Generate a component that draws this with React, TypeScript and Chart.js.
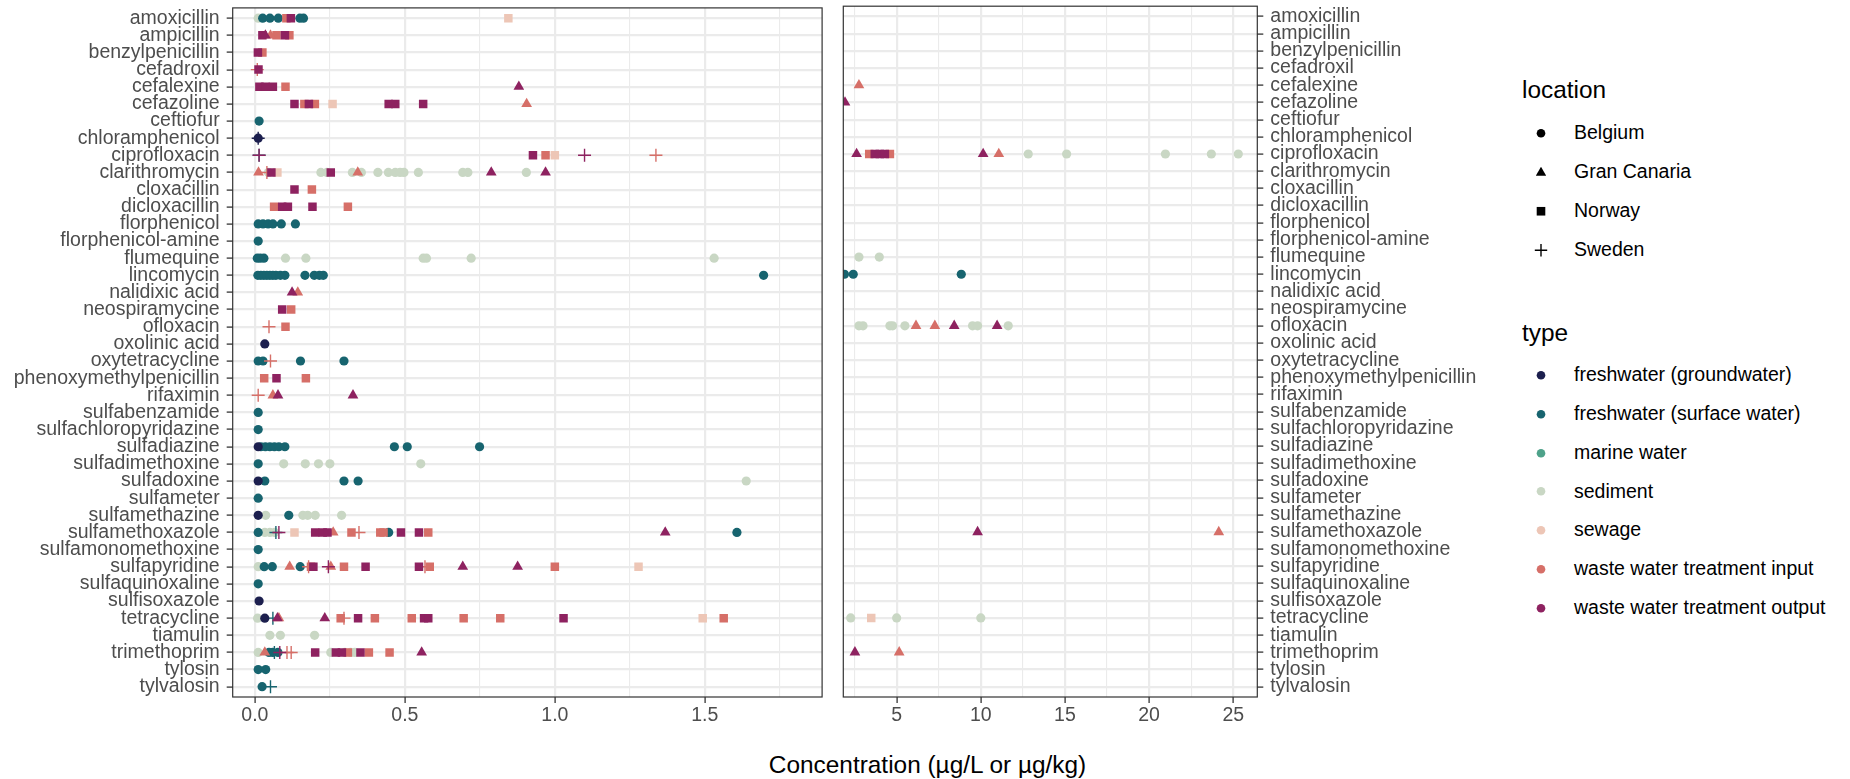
import React, { useEffect, useRef } from "react";
import { Chart, registerables } from "chart.js";
Chart.register(...registerables);

const FONT = "'Liberation Sans', Arial, sans-serif";

const drugs = [
  "amoxicillin", "ampicillin", "benzylpenicillin", "cefadroxil", "cefalexine", "cefazoline",
  "ceftiofur", "chloramphenicol", "ciprofloxacin", "clarithromycin", "cloxacillin", "dicloxacillin",
  "florphenicol", "florphenicol-amine", "flumequine", "lincomycin", "nalidixic acid", "neospiramycine",
  "ofloxacin", "oxolinic acid", "oxytetracycline", "phenoxymethylpenicillin", "rifaximin",
  "sulfabenzamide", "sulfachloropyridazine", "sulfadiazine", "sulfadimethoxine", "sulfadoxine",
  "sulfameter", "sulfamethazine", "sulfamethoxazole", "sulfamonomethoxine", "sulfapyridine",
  "sulfaquinoxaline", "sulfisoxazole", "tetracycline", "tiamulin", "trimethoprim", "tylosin", "tylvalosin",
];

const locations = ["Belgium", "Gran Canaria", "Norway", "Sweden"];
const types = [
  "freshwater (groundwater)", "freshwater (surface water)", "marine water", "sediment",
  "sewage", "waste water treatment input", "waste water treatment output",
];
const typeColors = ["#1C1F4E", "#17646F", "#4EA28A", "#C9D7C4", "#EDC6B6", "#D66F68", "#8E2260"];

const leftTicks = [0, 0.25, 0.5, 0.75, 1, 1.25, 1.5, 1.75];
const leftMajor = [0, 0.5, 1, 1.5];
const rightTicks = [2.5, 5, 7.5, 10, 12.5, 15, 17.5, 20, 22.5, 25];
const rightMajor = [5, 10, 15, 20, 25];
const breakValue = 1.89;

type Pt = [string, number];

const groundwaterBelgium: Pt[] = [
  ["chloramphenicol", 0.011], ["oxolinic acid", 0.033], ["sulfadiazine", 0.011], ["sulfadoxine", 0.011],
  ["sulfamethazine", 0.011], ["sulfisoxazole", 0.014], ["tetracycline", 0.033],
];
const groundwaterSweden: Pt[] = [["chloramphenicol", 0.011]];

const surfaceBelgium: Pt[] = [
  ["amoxicillin", 0.026], ["amoxicillin", 0.05], ["amoxicillin", 0.078], ["amoxicillin", 0.15], ["amoxicillin", 0.162],
  ["ceftiofur", 0.014],
  ["florphenicol", 0.011], ["florphenicol", 0.027], ["florphenicol", 0.044], ["florphenicol", 0.06], ["florphenicol", 0.088], ["florphenicol", 0.135],
  ["florphenicol-amine", 0.011],
  ["flumequine", 0.008], ["flumequine", 0.018], ["flumequine", 0.03],
  ["lincomycin", 0.01], ["lincomycin", 0.02], ["lincomycin", 0.03], ["lincomycin", 0.04], ["lincomycin", 0.05],
  ["lincomycin", 0.06], ["lincomycin", 0.07], ["lincomycin", 0.085], ["lincomycin", 0.1], ["lincomycin", 0.167],
  ["lincomycin", 0.198], ["lincomycin", 0.215], ["lincomycin", 0.228], ["lincomycin", 1.696], ["lincomycin", 1.9],
  ["lincomycin", 2.42], ["lincomycin", 8.84],
  ["oxytetracycline", 0.011], ["oxytetracycline", 0.027], ["oxytetracycline", 0.152], ["oxytetracycline", 0.297],
  ["sulfabenzamide", 0.011], ["sulfachloropyridazine", 0.011],
  ["sulfadiazine", 0.02], ["sulfadiazine", 0.035], ["sulfadiazine", 0.05], ["sulfadiazine", 0.065], ["sulfadiazine", 0.08],
  ["sulfadiazine", 0.1], ["sulfadiazine", 0.465], ["sulfadiazine", 0.508], ["sulfadiazine", 0.749],
  ["sulfadimethoxine", 0.011],
  ["sulfadoxine", 0.033], ["sulfadoxine", 0.297], ["sulfadoxine", 0.344],
  ["sulfameter", 0.011], ["sulfamethazine", 0.113],
  ["sulfamethoxazole", 0.011], ["sulfamethoxazole", 0.446], ["sulfamethoxazole", 1.607],
  ["sulfamonomethoxine", 0.011],
  ["sulfapyridine", 0.031], ["sulfapyridine", 0.058], ["sulfapyridine", 0.151],
  ["sulfaquinoxaline", 0.011],
  ["trimethoprim", 0.047], ["trimethoprim", 0.06], ["trimethoprim", 0.077],
  ["tylosin", 0.011], ["tylosin", 0.036], ["tylvalosin", 0.024],
];
const surfaceSweden: Pt[] = [
  ["ciprofloxacin", 0.014], ["sulfamethoxazole", 0.07], ["tetracycline", 0.06], ["trimethoprim", 0.065], ["tylvalosin", 0.052],
];

const sedimentBelgium: Pt[] = [
  ["amoxicillin", 0.011],
  ["clarithromycin", 0.045], ["clarithromycin", 0.22], ["clarithromycin", 0.24], ["clarithromycin", 0.325],
  ["clarithromycin", 0.355], ["clarithromycin", 0.41], ["clarithromycin", 0.445], ["clarithromycin", 0.468],
  ["clarithromycin", 0.484], ["clarithromycin", 0.497], ["clarithromycin", 0.545], ["clarithromycin", 0.693],
  ["clarithromycin", 0.71], ["clarithromycin", 0.905],
  ["ciprofloxacin", 12.82], ["ciprofloxacin", 15.1], ["ciprofloxacin", 20.97], ["ciprofloxacin", 23.7], ["ciprofloxacin", 25.3],
  ["flumequine", 0.102], ["flumequine", 0.17], ["flumequine", 0.561], ["flumequine", 0.572], ["flumequine", 0.721],
  ["flumequine", 1.531], ["flumequine", 2.76], ["flumequine", 3.97],
  ["ofloxacin", 2.76], ["ofloxacin", 3.0], ["ofloxacin", 4.6], ["ofloxacin", 4.76], ["ofloxacin", 5.49],
  ["ofloxacin", 9.51], ["ofloxacin", 9.81], ["ofloxacin", 11.63],
  ["sulfadimethoxine", 0.096], ["sulfadimethoxine", 0.168], ["sulfadimethoxine", 0.212], ["sulfadimethoxine", 0.25], ["sulfadimethoxine", 0.553],
  ["sulfadoxine", 1.638],
  ["sulfamethazine", 0.036], ["sulfamethazine", 0.16], ["sulfamethazine", 0.176], ["sulfamethazine", 0.201], ["sulfamethazine", 0.289],
  ["sulfamethoxazole", 0.033], ["sulfamethoxazole", 0.05], ["sulfamethoxazole", 0.066],
  ["sulfapyridine", 0.011],
  ["tetracycline", 0.009], ["tetracycline", 2.27], ["tetracycline", 5.0], ["tetracycline", 10.0],
  ["tiamulin", 0.05], ["tiamulin", 0.085], ["tiamulin", 0.199],
  ["trimethoprim", 0.011], ["trimethoprim", 0.253], ["trimethoprim", 0.3], ["trimethoprim", 0.319], ["trimethoprim", 0.333],
];

const sewageNorway: Pt[] = [
  ["amoxicillin", 0.845], ["cefazoline", 0.259], ["ciprofloxacin", 1.0], ["clarithromycin", 0.075],
  ["sulfamethoxazole", 0.132], ["sulfapyridine", 1.279], ["tetracycline", 1.493], ["tetracycline", 3.49],
];

const inputGranCanaria: Pt[] = [
  ["ampicillin", 0.052], ["cefalexine", 2.76], ["cefazoline", 0.906], ["clarithromycin", 0.012], ["clarithromycin", 0.343],
  ["ciprofloxacin", 11.07], ["nalidixic acid", 0.143], ["ofloxacin", 6.15], ["ofloxacin", 7.27], ["rifaximin", 0.06],
  ["sulfamethoxazole", 0.261], ["sulfamethoxazole", 24.14], ["sulfapyridine", 0.116], ["sulfapyridine", 0.253],
  ["tetracycline", 0.08], ["trimethoprim", 0.033], ["trimethoprim", 5.15],
];
const inputNorway: Pt[] = [
  ["amoxicillin", 0.105], ["ampicillin", 0.072], ["ampicillin", 0.115], ["benzylpenicillin", 0.025], ["cefalexine", 0.102],
  ["cefazoline", 0.165], ["cefazoline", 0.2], ["ciprofloxacin", 0.969], ["ciprofloxacin", 3.37], ["ciprofloxacin", 4.6],
  ["cloxacillin", 0.19], ["dicloxacillin", 0.064], ["dicloxacillin", 0.31], ["neospiramycine", 0.121], ["ofloxacin", 0.102],
  ["phenoxymethylpenicillin", 0.031], ["phenoxymethylpenicillin", 0.17],
  ["sulfamethoxazole", 0.322], ["sulfamethoxazole", 0.418], ["sulfamethoxazole", 0.429], ["sulfamethoxazole", 0.578],
  ["sulfapyridine", 0.187], ["sulfapyridine", 0.297], ["sulfapyridine", 0.583], ["sulfapyridine", 1.0],
  ["tetracycline", 0.286], ["tetracycline", 0.4], ["tetracycline", 0.523], ["tetracycline", 0.696], ["tetracycline", 0.818], ["tetracycline", 1.563],
  ["trimethoprim", 0.31], ["trimethoprim", 0.38], ["trimethoprim", 0.449],
];
const inputSweden: Pt[] = [
  ["cefadroxil", 0.008], ["ciprofloxacin", 1.337], ["clarithromycin", 0.04], ["ofloxacin", 0.047], ["oxytetracycline", 0.052],
  ["rifaximin", 0.011], ["sulfamethoxazole", 0.347], ["sulfapyridine", 0.179], ["sulfapyridine", 0.567],
  ["tetracycline", 0.297], ["trimethoprim", 0.107], ["trimethoprim", 0.121],
];

const outputGranCanaria: Pt[] = [
  ["ampicillin", 0.035], ["cefalexine", 0.88], ["cefazoline", 1.93], ["ciprofloxacin", 2.62], ["ciprofloxacin", 10.14],
  ["clarithromycin", 0.788], ["clarithromycin", 0.969], ["nalidixic acid", 0.124], ["ofloxacin", 8.42], ["ofloxacin", 10.97],
  ["rifaximin", 0.077], ["rifaximin", 0.327], ["sulfamethoxazole", 1.368], ["sulfamethoxazole", 9.81],
  ["sulfapyridine", 0.693], ["sulfapyridine", 0.876], ["tetracycline", 0.075], ["tetracycline", 0.233],
  ["trimethoprim", 0.556], ["trimethoprim", 2.52],
];
const outputNorway: Pt[] = [
  ["amoxicillin", 0.12], ["ampicillin", 0.025], ["ampicillin", 0.1], ["benzylpenicillin", 0.01], ["cefadroxil", 0.012],
  ["cefalexine", 0.015], ["cefalexine", 0.035], ["cefalexine", 0.06],
  ["cefazoline", 0.132], ["cefazoline", 0.18], ["cefazoline", 0.446], ["cefazoline", 0.468], ["cefazoline", 0.561],
  ["ciprofloxacin", 0.927], ["ciprofloxacin", 3.7], ["ciprofloxacin", 4.0], ["ciprofloxacin", 4.3],
  ["clarithromycin", 0.055], ["clarithromycin", 0.253], ["cloxacillin", 0.132],
  ["dicloxacillin", 0.091], ["dicloxacillin", 0.11], ["dicloxacillin", 0.192], ["neospiramycine", 0.091],
  ["phenoxymethylpenicillin", 0.072],
  ["sulfamethoxazole", 0.201], ["sulfamethoxazole", 0.226], ["sulfamethoxazole", 0.242], ["sulfamethoxazole", 0.487], ["sulfamethoxazole", 0.547],
  ["sulfapyridine", 0.195], ["sulfapyridine", 0.369], ["sulfapyridine", 0.547],
  ["tetracycline", 0.344], ["tetracycline", 0.564], ["tetracycline", 0.578], ["tetracycline", 1.029],
  ["trimethoprim", 0.201], ["trimethoprim", 0.27], ["trimethoprim", 0.29], ["trimethoprim", 0.352],
];
const outputSweden: Pt[] = [
  ["ciprofloxacin", 0.014], ["ciprofloxacin", 1.099], ["sulfamethoxazole", 0.08], ["sulfapyridine", 0.245], ["trimethoprim", 0.083],
];

// bottom-to-top drawing order
const seriesList: { data: Pt[]; type: number; location: number }[] = [
  { data: sedimentBelgium, type: 3, location: 0 },
  { data: sewageNorway, type: 4, location: 2 },
  { data: surfaceBelgium, type: 1, location: 0 },
  { data: surfaceSweden, type: 1, location: 3 },
  { data: groundwaterBelgium, type: 0, location: 0 },
  { data: groundwaterSweden, type: 0, location: 3 },
  { data: inputNorway, type: 5, location: 2 },
  { data: inputGranCanaria, type: 5, location: 1 },
  { data: inputSweden, type: 5, location: 3 },
  { data: outputNorway, type: 6, location: 2 },
  { data: outputGranCanaria, type: 6, location: 1 },
  { data: outputSweden, type: 6, location: 3 },
];

const shapeStyle = (loc: number) => {
  if (loc === 0) return { pointStyle: "circle", radius: 4.6 };
  if (loc === 1) return { pointStyle: "triangle", radius: 6.2 };
  if (loc === 2) return { pointStyle: "rect", radius: 6 };
  return { pointStyle: "cross", radius: 6.5 };
};

function buildDatasets(side: "left" | "right") {
  const ds = seriesList.map((s) => {
    const color = typeColors[s.type];
    const st = shapeStyle(s.location);
    const pts = s.data
      .filter(([, v]) => (side === "left" ? v < breakValue : v >= breakValue))
      .map(([d, v]) => ({ x: v, y: drugs.indexOf(d) }));
    const isCross = s.location === 3;
    return {
      label: types[s.type] + " / " + locations[s.location],
      data: pts,
      pointStyle: st.pointStyle,
      pointRadius: st.radius,
      backgroundColor: color,
      borderColor: color,
      borderWidth: isCross ? 1.4 : 0,
      pointBorderWidth: isCross ? 1.4 : 0,
      showLine: false,
      clip: 0,
    };
  });
  return ds.reverse();
}

const borderPlugin = {
  id: "panelBorder",
  afterDatasetsDraw(chart: any) {
    const { ctx, chartArea } = chart;
    ctx.save();
    ctx.strokeStyle = "#333333";
    ctx.lineWidth = 1.2;
    ctx.strokeRect(chartArea.left, chartArea.top, chartArea.right - chartArea.left, chartArea.bottom - chartArea.top);
    ctx.restore();
  },
};

const RIGHT_CANVAS_W = 670;

function makeConfig(side: "left" | "right"): any {
  const isLeft = side === "left";
  const ticks = isLeft ? leftTicks : rightTicks;
  const major = isLeft ? leftMajor : rightMajor;
  const isMajor = (v: number) => major.includes(v);
  return {
    type: "scatter",
    data: { datasets: buildDatasets(side) },
    plugins: [borderPlugin],
    options: {
      animation: false,
      responsive: false,
      events: [],
      layout: { padding: isLeft ? { top: 6, right: 2, left: 0, bottom: 0 } : { top: 6, right: 0, left: 8.3, bottom: 0 } },
      plugins: { legend: { display: false }, tooltip: { enabled: false } },
      scales: {
        x: {
          type: "linear",
          min: isLeft ? -0.074 : 1.83,
          max: isLeft ? 1.891 : 26.43,
          afterBuildTicks: (s: any) => {
            s.ticks = ticks.map((v) => ({ value: v }));
          },
          afterFit: (s: any) => {
            s.height = 33;
            s.paddingLeft = 0;
            s.paddingRight = 0;
          },
          ticks: {
            autoSkip: false,
            maxRotation: 0,
            padding: 1,
            color: "#4d4d4d",
            font: { family: FONT, size: 19.5 },
            callback: (v: number) => (isMajor(v) ? (isLeft ? v.toFixed(1) : String(v)) : ""),
          },
          grid: {
            color: "#EBEBEB",
            lineWidth: (c: any) => (c.tick && isMajor(c.tick.value) ? 2.2 : 1.1),
            tickColor: (c: any) => (c.tick && isMajor(c.tick.value) ? "#333333" : "rgba(0,0,0,0)"),
            tickLength: 6,
            tickWidth: 1.3,
          },
          border: { display: false },
        },
        y: {
          type: "linear",
          position: isLeft ? "left" : "right",
          reverse: true,
          min: -0.6,
          max: drugs.length - 0.4,
          afterBuildTicks: (s: any) => {
            s.ticks = drugs.map((_, i) => ({ value: i }));
          },
          afterFit: (s: any) => {
            s.width = isLeft ? 232.7 : RIGHT_CANVAS_W - (1257.3 - 835);
            s.paddingTop = 0;
            s.paddingBottom = 0;
          },
          ticks: {
            autoSkip: false,
            padding: 7,
            color: "#4d4d4d",
            font: { family: FONT, size: 19.5 },
            callback: (v: number) => drugs[v] ?? "",
          },
          grid: {
            color: "#EBEBEB",
            lineWidth: 2.2,
            tickColor: "#333333",
            tickLength: 6,
            tickWidth: 1.3,
          },
          border: { display: false },
        },
      },
    },
  };
}

function Panel({ side, left, width }: { side: "left" | "right"; left: number; width: number }) {
  const ref = useRef<HTMLCanvasElement>(null);
  useEffect(() => {
    if (!ref.current) return;
    const chart = new Chart(ref.current, makeConfig(side));
    return () => chart.destroy();
  }, [side]);
  return (
    <canvas
      ref={ref}
      width={width}
      height={730}
      style={{ position: "absolute", left, top: 0, width, height: 730 }}
    />
  );
}

function Symbol({ kind, color }: { kind: number; color: string }) {
  return (
    <svg width={16} height={16} viewBox="-8 -8 16 16" style={{ display: "block" }}>
      {kind === 0 && <circle cx={0} cy={0} r={4.3} fill={color} />}
      {kind === 1 && <polygon points="0,-5.5 5.2,3.5 -5.2,3.5" fill={color} />}
      {kind === 2 && <rect x={-4.3} y={-4.3} width={8.6} height={8.6} fill={color} />}
      {kind === 3 && <path d="M -6.2 0 L 6.2 0 M 0 -6.2 L 0 6.2" stroke={color} strokeWidth={1.4} />}
    </svg>
  );
}

function LegendItem({ y, kind, color, text }: { y: number; kind: number; color: string; text: string }) {
  return (
    <div style={{ position: "absolute", left: 1533, top: y, transform: "translateY(-50%)", display: "flex", alignItems: "center" }}>
      <Symbol kind={kind} color={color} />
      <span style={{ marginLeft: 25, fontSize: 19.5, color: "#000", lineHeight: 1, whiteSpace: "nowrap" }}>{text}</span>
    </div>
  );
}

export default function App() {
  const titleStyle: React.CSSProperties = {
    position: "absolute",
    left: 1522,
    transform: "translateY(-50%)",
    fontSize: 24.4,
    color: "#000",
    lineHeight: 1,
  };
  return (
    <div
      style={{
        position: "absolute",
        left: 0,
        top: 0,
        width: 1850,
        height: 779,
        background: "#fff",
        fontFamily: FONT,
        overflow: "hidden",
      }}
    >
      <Panel side="left" left={0} width={830} />
      <Panel side="right" left={835} width={RIGHT_CANVAS_W} />
      <div style={{ ...titleStyle, top: 90 }}>location</div>
      {locations.map((l, i) => (
        <LegendItem key={l} y={133.3 + i * 38.9} kind={i} color="#000" text={l} />
      ))}
      <div style={{ ...titleStyle, top: 333 }}>type</div>
      {types.map((t, i) => (
        <LegendItem key={t} y={375.2 + i * 38.8} kind={0} color={typeColors[i]} text={t} />
      ))}
      <div
        style={{
          position: "absolute",
          left: 927.5,
          top: 765,
          transform: "translate(-50%, -50%)",
          fontSize: 24.4,
          color: "#000",
          whiteSpace: "nowrap",
          lineHeight: 1,
        }}
      >
        Concentration (µg/L or µg/kg)
      </div>
    </div>
  );
}
